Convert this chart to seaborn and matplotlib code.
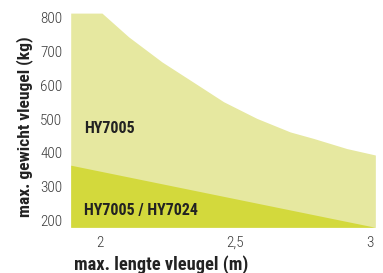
import numpy as np
import pandas as pd
import matplotlib
matplotlib.use("Agg")
import matplotlib.pyplot as plt
from matplotlib import font_manager
import seaborn as sns

# upper limit HY7005
len_upper = [1.89, 2.006, 2.105, 2.229, 2.352, 2.457, 2.580, 2.704, 2.790, 2.914, 3.02]
kg_upper = [812, 812, 742, 668, 605, 551, 502, 462, 443, 413, 394]

# upper limit HY7005 / HY7024
len_lower = [1.89, 3.02]
kg_lower = [364, 181]

x_ticks = [2, 2.5, 3]
x_ticklabels = ["2", "2,5", "3"]
y_ticks = [200, 300, 400, 500, 600, 700, 800]

light = "#e6e8a0"
dark = "#d3d93c"

sns.set_style("white")
names = {f.name for f in font_manager.fontManager.ttflist}
fam = [n for n in ["Liberation Sans Narrow", "Roboto Condensed", "Open Sans Condensed"] if n in names]
plt.rcParams["font.family"] = fam + ["DejaVu Sans"]
plt.rcParams["font.stretch"] = "condensed"

fig = plt.figure(figsize=(3.83, 2.73), dpi=100)
ax = fig.add_axes([0.1846, 0.1674, 0.7954, 0.7846])

df_up = pd.DataFrame({"len": len_upper, "kg": kg_upper})
df_lo = pd.DataFrame({"len": len_lower, "kg": kg_lower})

y0 = 181
sns.lineplot(data=df_up, x="len", y="kg", ax=ax, color=light, linewidth=0)
ax.fill_between(df_up["len"], y0, df_up["kg"], color=light, linewidth=0)
sns.lineplot(data=df_lo, x="len", y="kg", ax=ax, color=dark, linewidth=0)
ax.fill_between(df_lo["len"], y0, df_lo["kg"], color=dark, linewidth=0)

ax.set_xlim(1.89, 3.02)
ax.set_ylim(y0, 812)
ax.set_xticks(x_ticks)
ax.set_xticklabels(x_ticklabels)
ax.set_yticks(y_ticks)
ax.tick_params(axis="both", length=0, labelsize=11, colors="#3a3a3a")
ax.tick_params(axis="y", pad=6)
ax.tick_params(axis="x", pad=6)
for lab in ax.get_xticklabels() + ax.get_yticklabels():
    lab.set_fontweight("light")
for s in ax.spines.values():
    s.set_visible(False)

ax.set_xlabel("max. lengte vleugel (m)", fontsize=13.2, fontweight="bold", color="#222222")
ax.xaxis.set_label_coords(0.296, -0.13)
ax.set_ylabel("max. gewicht vleugel (kg)", fontsize=12.6, fontweight="bold", color="#222222")
ax.yaxis.set_label_coords(-0.125, 0.47)

ax.text(1.94, 473, "HY7005", fontsize=11.5, fontweight="bold", color="#222222", va="center")
ax.text(1.94, 231, "HY7005 / HY7024", fontsize=11.5, fontweight="bold", color="#222222", va="center")

fig.savefig("out.png", dpi=100)
